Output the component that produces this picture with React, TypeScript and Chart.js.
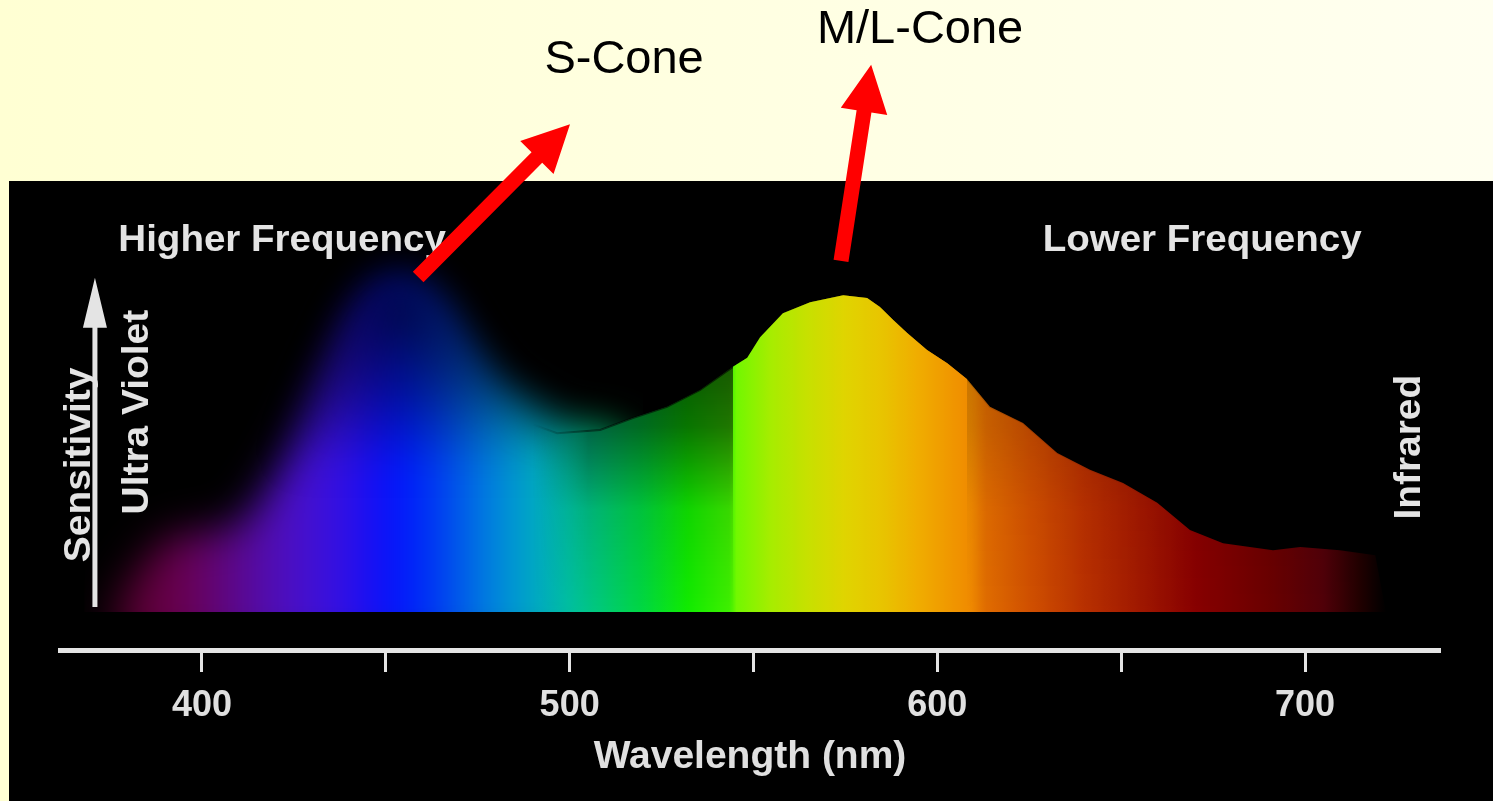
import React, { useEffect, useRef } from "react";
import { Chart, registerables } from "chart.js";

// ---------- data ----------
const X_MIN = 361.4;
const X_MAX = 736.7;
const Y_MIN = -9.22;
const Y_MAX = 148.54;
const TICK_VALUES = [400, 450, 500, 550, 600, 650, 700];

// blurred S-cone glow
const GLOW_NM = [368, 377.7, 390.5, 408.5, 417.7, 426.7, 435.7, 444.9, 453.9, 462.9, 472.1, 481.1, 490.0, 497.4, 508.3, 516, 520];
const GLOW_VAL = [0, 5, 17.5, 21, 30, 44, 61, 76, 80.5, 75.7, 63.6, 53.9, 49.0, 44.9, 44.2, 40, 0];

// sharp M/L envelope
const CURVE_NM = [490, 496.6, 508.3, 517.2, 526.5, 535.5, 544.4, 548.3, 551.8, 558.0, 565.4, 574.4, 580.9, 584.4, 588.0, 591.8, 597.2, 602.7, 608.1, 614.3, 623.3, 632.6, 641.5, 650.5, 659.8, 668.7, 677.7, 691.3, 698.7, 709.5, 719.1, 722];
const CURVE_VAL = [45.5, 43.4, 44.2, 47.1, 49.8, 53.9, 59.5, 61.7, 66.7, 72.5, 75.2, 76.9, 76.2, 74.0, 70.9, 67.7, 63.6, 60.4, 56.5, 49.8, 45.9, 38.6, 34.5, 31.3, 26.5, 19.9, 16.7, 15.0, 15.8, 15.0, 13.8, 0];
const BLOCK_FROM = 544.4;
const BLOCK_TO = 608.1;

// spectrum colours by wavelength
const SPECTRUM_NM = [368, 380, 395, 410, 425, 440, 452, 465, 478, 490, 500, 510, 520, 532, 544, 545, 555, 565, 575, 585, 595, 605, 609, 613, 625, 640, 655, 670, 690, 705, 715, 722];
const SPECTRUM_HEX = ["#000000", "#5a0030", "#6a0050", "#5a0890", "#4a10c8", "#3010e8", "#0010ff", "#0040f0", "#0080e0", "#00a8c8", "#00c0a0", "#00cc70", "#00d840", "#10ec00", "#40f000", "#70f800", "#a8ec00", "#c8e000", "#e0d400", "#e8c400", "#f0ac00", "#f09400", "#f08a00", "#e06c00", "#d05000", "#b83000", "#a01800", "#880000", "#6a0000", "#500008", "#200000", "#000000"];

// darkening toward the top (glow part and sharp part)
const GLOW_SHADE_LEVEL = [0, 35, 55, 80];
const GLOW_SHADE_ALPHA = [0, 0, 0.4, 0.8];
const SHADE_LEVEL = [0, 25, 45, 62];
const SHADE_ALPHA = [0, 0.1, 0.5, 0.65];
const SHADE_MASK_NM = [490, 505, 544, 600, 612, 722];
const SHADE_MASK_ALPHA = [0, 1, 1, 0.35, 0.22, 0.35];

// annotations (in data coordinates)
const CONE_LABELS = ["S-Cone", "M/L-Cone"];
const CONE_LABEL_NM = [514.8, 595.3];
const CONE_LABEL_VAL = [134.0, 141.3];
const CONE_ARROW_FROM_NM = [458.8, 573.8];
const CONE_ARROW_FROM_VAL = [81.3, 85.2];
const CONE_ARROW_TO_NM = [500.1, 582.0];
const CONE_ARROW_TO_VAL = [118.4, 132.8];

const PANEL_LABELS = ["Higher Frequency", "Lower Frequency"];
const PANEL_LABEL_NM = [421.8, 672.0];
const PANEL_LABEL_VAL = [90.0, 90.0];

const SIDE_LABELS = ["Sensitivity", "Ultra Violet", "Infrared"];
const SIDE_LABEL_NM = [366.8, 382.6, 728.6];
const SIDE_LABEL_VAL = [35.7, 48.5, 40.0];

const SENS_ARROW_NM = 370.9;
const SENS_ARROW_FROM_VAL = 1.2;
const SENS_ARROW_TO_VAL = 81.1;

// ---------- helpers ----------
const FONT = "'Liberation Sans', Arial, sans-serif";

function hexToRgb(h: string): number[] {
  const n = parseInt(h.slice(1), 16);
  return [(n >> 16) & 255, (n >> 8) & 255, n & 255];
}
const SPECTRUM_RGB = SPECTRUM_HEX.map(hexToRgb);

function spectrumAt(nm: number): number[] {
  if (nm <= SPECTRUM_NM[0]) return SPECTRUM_RGB[0];
  for (let i = 1; i < SPECTRUM_NM.length; i++) {
    if (nm <= SPECTRUM_NM[i]) {
      const t = (nm - SPECTRUM_NM[i - 1]) / (SPECTRUM_NM[i] - SPECTRUM_NM[i - 1]);
      const a = SPECTRUM_RGB[i - 1], b = SPECTRUM_RGB[i];
      return [0, 1, 2].map((k) => Math.round(a[k] + (b[k] - a[k]) * t));
    }
  }
  return SPECTRUM_RGB[SPECTRUM_RGB.length - 1];
}

function horizontalGradient(chart: any, alphaAt: (nm: number) => number) {
  const xs = chart.scales.x;
  const x0 = xs.getPixelForValue(X_MIN);
  const x1 = xs.getPixelForValue(X_MAX);
  const g = chart.ctx.createLinearGradient(x0, 0, x1, 0);
  for (let nm = X_MIN; nm <= X_MAX; nm += 1) {
    const t = (nm - X_MIN) / (X_MAX - X_MIN);
    const [r, gg, b] = spectrumAt(nm);
    g.addColorStop(Math.min(1, Math.max(0, t)), `rgba(${r},${gg},${b},${alphaAt(nm)})`);
  }
  return g;
}

function verticalShade(ctx: CanvasRenderingContext2D, chart: any, levels: number[], alphas: number[]) {
  const ys = chart.scales.y;
  const top = levels[levels.length - 1];
  const g = ctx.createLinearGradient(0, ys.getPixelForValue(0), 0, ys.getPixelForValue(top));
  levels.forEach((v, i) => g.addColorStop(v / top, `rgba(0,0,0,${alphas[i]})`));
  return g;
}

let shadePatternCache: any = null;
function sharpShadePattern(chart: any) {
  if (shadePatternCache && shadePatternCache.chart === chart) return shadePatternCache.pattern;
  const off = document.createElement("canvas");
  off.width = chart.width;
  off.height = chart.height;
  const octx = off.getContext("2d") as CanvasRenderingContext2D;
  octx.fillStyle = verticalShade(octx, chart, SHADE_LEVEL, SHADE_ALPHA);
  octx.fillRect(0, 0, off.width, off.height);
  const xs = chart.scales.x;
  const x0 = xs.getPixelForValue(SHADE_MASK_NM[0]);
  const x1 = xs.getPixelForValue(SHADE_MASK_NM[SHADE_MASK_NM.length - 1]);
  const mask = octx.createLinearGradient(x0, 0, x1, 0);
  const span = SHADE_MASK_NM[SHADE_MASK_NM.length - 1] - SHADE_MASK_NM[0];
  SHADE_MASK_NM.forEach((nm, i) => mask.addColorStop((nm - SHADE_MASK_NM[0]) / span, `rgba(0,0,0,${SHADE_MASK_ALPHA[i]})`));
  octx.globalCompositeOperation = "destination-in";
  octx.fillStyle = mask;
  octx.fillRect(0, 0, off.width, off.height);
  const pattern = chart.ctx.createPattern(off, "no-repeat");
  shadePatternCache = { chart, pattern };
  return pattern;
}

function drawArrow(ctx: CanvasRenderingContext2D, x0: number, y0: number, x1: number, y1: number, shaft: number, headW: number, headL: number, color: string) {
  const dx = x1 - x0, dy = y1 - y0;
  const len = Math.hypot(dx, dy);
  const ux = dx / len, uy = dy / len;
  const px = -uy, py = ux;
  const bx = x1 - ux * headL, by = y1 - uy * headL;
  ctx.beginPath();
  ctx.moveTo(x0 + (px * shaft) / 2, y0 + (py * shaft) / 2);
  ctx.lineTo(bx + (px * shaft) / 2, by + (py * shaft) / 2);
  ctx.lineTo(bx + (px * headW) / 2, by + (py * headW) / 2);
  ctx.lineTo(x1, y1);
  ctx.lineTo(bx - (px * headW) / 2, by - (py * headW) / 2);
  ctx.lineTo(bx - (px * shaft) / 2, by - (py * shaft) / 2);
  ctx.lineTo(x0 - (px * shaft) / 2, y0 - (py * shaft) / 2);
  ctx.closePath();
  ctx.fillStyle = color;
  ctx.fill();
}

// blur/clip plugin must run before the Filler plugin
const datasetBlurPlugin = {
  id: "datasetBlur",
  beforeDatasetDraw(chart: any, args: any) {
    const ds = chart.data.datasets[args.index];
    if (ds && (ds.blur || ds.clipBase)) {
      const ctx = chart.ctx;
      ctx.save();
      if (ds.clipBase) {
        const a = chart.chartArea;
        ctx.beginPath();
        ctx.rect(a.left, a.top, a.right - a.left, chart.scales.y.getPixelForValue(0) - a.top);
        ctx.clip();
      }
      if (ds.blur) ctx.filter = `blur(${ds.blur}px)`;
    }
  },
  afterDatasetDraw(chart: any, args: any) {
    const ds = chart.data.datasets[args.index];
    if (ds && (ds.blur || ds.clipBase)) chart.ctx.restore();
  },
};
Chart.register(datasetBlurPlugin as any);
Chart.register(...registerables);

function drawScaledText(ctx: CanvasRenderingContext2D, text: string, x: number, y: number, rotation: number, stretch: number) {
  ctx.save();
  ctx.translate(x, y);
  ctx.rotate(rotation);
  ctx.scale(stretch, 1);
  ctx.fillText(text, 0, 0);
  ctx.restore();
}

const decorPlugin = {
  id: "decor",
  beforeDraw(chart: any) {
    const { ctx, width, height } = chart;
    ctx.save();
    const g = ctx.createLinearGradient(0, 0, width, 0);
    g.addColorStop(0, "#ffffd3");
    g.addColorStop(1, "#fffff0");
    ctx.fillStyle = g;
    ctx.fillRect(0, 0, width, height);
    ctx.fillStyle = "#000000";
    ctx.fillRect(9, 181, width - 9, height - 181);
    ctx.restore();
  },
  afterDraw(chart: any) {
    const { ctx } = chart;
    const xs = chart.scales.x, ys = chart.scales.y;
    const px = (nm: number) => xs.getPixelForValue(nm);
    const py = (v: number) => ys.getPixelForValue(v);
    ctx.save();
    ctx.textAlign = "center";
    ctx.textBaseline = "middle";
    ctx.fillStyle = "#e4e4e4";
    ctx.font = `bold 36px ${FONT}`;
    PANEL_LABELS.forEach((t, i) => drawScaledText(ctx, t, px(PANEL_LABEL_NM[i]), py(PANEL_LABEL_VAL[i]), 0, 1.07));
    SIDE_LABELS.forEach((t, i) => drawScaledText(ctx, t, px(SIDE_LABEL_NM[i]), py(SIDE_LABEL_VAL[i]), -Math.PI / 2, 1.08));
    drawArrow(ctx, px(SENS_ARROW_NM), py(SENS_ARROW_FROM_VAL), px(SENS_ARROW_NM), py(SENS_ARROW_TO_VAL), 5, 24, 50, "#e4e4e4");
    ctx.fillStyle = "#000000";
    ctx.font = `47px ${FONT}`;
    CONE_LABELS.forEach((t, i) => ctx.fillText(t, px(CONE_LABEL_NM[i]), py(CONE_LABEL_VAL[i])));
    CONE_LABELS.forEach((_, i) =>
      drawArrow(ctx, px(CONE_ARROW_FROM_NM[i]), py(CONE_ARROW_FROM_VAL[i]), px(CONE_ARROW_TO_NM[i]), py(CONE_ARROW_TO_VAL[i]), 15, 47, 47, "#ff0000")
    );
    ctx.restore();
  },
};

export default function App() {
  const ref = useRef<HTMLCanvasElement | null>(null);

  useEffect(() => {
    if (!ref.current) return;
    const glowData = GLOW_NM.map((nm, i) => ({ x: nm, y: GLOW_VAL[i] }));
    const curveData = CURVE_NM.map((nm, i) => ({ x: nm, y: CURVE_VAL[i] }));
    const blockData = curveData.filter((p) => p.x >= BLOCK_FROM && p.x <= BLOCK_TO);
    const base = {
      fill: "origin",
      pointRadius: 0,
      borderWidth: 0,
      borderColor: "rgba(0,0,0,0)",
    };
    const chart = new Chart(ref.current, {
      type: "line",
      data: {
        datasets: [
          {
            ...base,
            label: "S-cone glow",
            data: glowData,
            fill: { value: Y_MIN },
            order: 5,
            tension: 0.4,
            blur: 20,
            clipBase: true,
            backgroundColor: (c: any) =>
              c.chart.chartArea
                ? horizontalGradient(c.chart, (nm) => Math.min(1, Math.max(0, (nm - 371) / 10)))
                : "transparent",
          } as any,
          {
            ...base,
            label: "S-cone shade",
            data: glowData,
            fill: { value: Y_MIN },
            order: 4,
            tension: 0.4,
            blur: 20,
            clipBase: true,
            backgroundColor: (c: any) =>
              c.chart.chartArea ? verticalShade(c.chart.ctx, c.chart, GLOW_SHADE_LEVEL, GLOW_SHADE_ALPHA) : "transparent",
          } as any,
          {
            ...base,
            label: "sensitivity",
            data: curveData,
            order: 3,
            tension: 0,
            backgroundColor: (c: any) =>
              c.chart.chartArea
                ? horizontalGradient(c.chart, (nm) => Math.min(1, Math.max(0, (nm - 490) / 14)))
                : "transparent",
          } as any,
          {
            ...base,
            label: "sensitivity shade",
            data: curveData,
            order: 2,
            tension: 0,
            borderWidth: 2,
            borderColor: (c: any) => (c.chart.chartArea ? sharpShadePattern(c.chart) : "transparent"),
            backgroundColor: (c: any) => (c.chart.chartArea ? sharpShadePattern(c.chart) : "transparent"),
          } as any,
          {
            ...base,
            label: "peak",
            data: blockData,
            order: 1,
            tension: 0,
            backgroundColor: (c: any) =>
              c.chart.chartArea ? horizontalGradient(c.chart, () => 1) : "transparent",
          } as any,
        ],
      },
      options: {
        animation: false,
        responsive: false,
        devicePixelRatio: 1,
        layout: { padding: { left: 60, right: 53, top: 0, bottom: 0 } },
        plugins: { legend: { display: false }, tooltip: { enabled: false } },
        scales: {
          x: {
            type: "linear",
            min: X_MIN,
            max: X_MAX,
            afterBuildTicks: (s: any) => {
              s.ticks = TICK_VALUES.map((v) => ({ value: v }));
            },
            afterFit: (s: any) => {
              s.height = 151;
            },
            grid: {
              drawOnChartArea: false,
              drawTicks: true,
              tickLength: 22,
              tickColor: "#e4e4e4",
              tickWidth: 3,
              color: "#e4e4e4",
            },
            border: { display: true, color: "#e4e4e4", width: 5 },
            ticks: {
              color: "#e0e0e0",
              font: { family: FONT, size: 36, weight: "bold" },
              padding: 12,
              maxRotation: 0,
              callback: (v: any) => (Number(v) % 100 === 0 ? String(v) : ""),
            },
            title: {
              display: true,
              text: "Wavelength (nm)",
              color: "#e0e0e0",
              font: { family: FONT, size: 39, weight: "bold" },
              padding: { top: 0, bottom: 20 },
            },
          },
          y: { type: "linear", display: false, min: Y_MIN, max: Y_MAX },
        },
      } as any,
      plugins: [decorPlugin as any],
    });
    return () => {
      chart.destroy();
      shadePatternCache = null;
    };
  }, []);

  return (
    <div style={{ position: "absolute", left: 0, top: 0, width: 1493, height: 801 }}>
      <canvas ref={ref} width={1493} height={801} style={{ display: "block", width: 1493, height: 801 }} />
    </div>
  );
}
